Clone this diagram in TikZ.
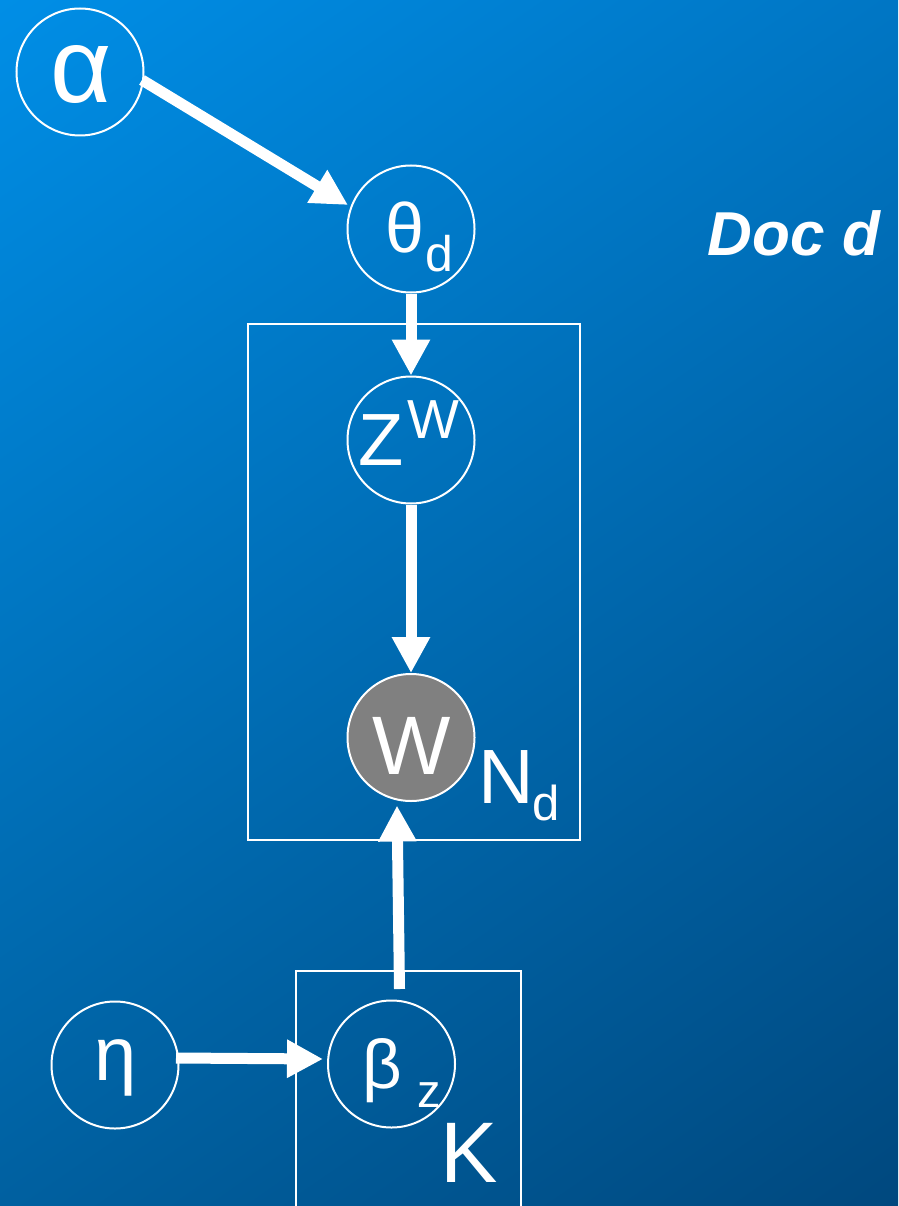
\documentclass[tikz,border=0pt]{standalone}
\usepackage{fontspec}
\setmainfont{Liberation Sans}
\usetikzlibrary{arrows.meta,calc,shadings}
\newcommand{\fs}[1]{\fontsize{#1}{#1}\selectfont}
\tikzset{
  var/.style={circle,draw=white,line width=2pt,minimum size=127pt,inner sep=0pt},
  obs/.style={var,fill=gray50},
  plate/.style={draw=white,line width=2pt},
  arr/.style={draw=white,line width=11pt,-{Triangle[length=36pt,width=36pt]}},
  txt/.style={text=white,inner sep=0pt,anchor=base}
}
\definecolor{gray50}{RGB}{128,128,128}
\definecolor{bgtl}{RGB}{0,142,230}
\definecolor{bgtr}{RGB}{0,118,196}
\definecolor{bgbl}{RGB}{0,96,160}
\definecolor{bgbr}{RGB}{0,72,126}
\begin{document}
\begin{tikzpicture}[x=1pt,y=-1pt]
\useasboundingbox (0,0) rectangle (898,1206);
\shade[upper left=bgtl,upper right=bgtr,lower left=bgbl,lower right=bgbr] (0,0) rectangle (898,1206);
% plates
\draw[plate] (248,324) rectangle (580,840);
\draw[plate] (296,971) rectangle (521,1215);
% nodes
\node[var] (alpha) at (80,72) {};
\node[var] (theta) at (411,229) {};
\node[var] (z) at (411,440) {};
\node[obs] (w) at (411,737.5) {};
\node[var] (eta) at (115,1065) {};
\node[var] (beta) at (391.5,1064) {};
% labels
\node[txt] (talpha) at (81,103) {\fs{106}α};
\node[txt] (ttheta) at (404.5,252) {\fs{70}θ};
\node[txt] (tthetad) at (439,271) {\fs{50}d};
\node[txt] (tz) at (381.5,465) {\fs{74}Z};
\node[txt] (tzw) at (433,438) {\fs{55}W};
\node[txt] (tw) at (411.5,774) {\fs{83}W};
\node[txt] (tN) at (506,803) {\fs{77}N};
\node[txt] (tNd) at (546.5,820) {\fs{49}d};
\node[txt] (teta) at (116,1080) {\fs{76}η};
\node[txt] (tbeta) at (382.5,1088) {\fs{69}β};
\node[txt] (tbetaz) at (429,1107) {\fs{47}z};
\node[txt] (tK) at (469,1182) {\fs{86}K};
\node[txt] (doc) at (794,255) {\fs{62}\bfseries\itshape Doc d};
% arrows
\draw[arr] ($(alpha.center)+(62,8)$) -- ($(theta.center)+(-63,-24)$);
\draw[arr] (theta.south) -- (z.north);
\draw[arr] (z.south) -- (w.north);
\draw[arr] ($(beta.center)+(8,-75)$) -- ($(w.center)+(-14,68)$);
\draw[arr] ($(eta.center)+(61,-7)$) -- ($(beta.center)+(-68.5,-5)$);
\end{tikzpicture}
\end{document}
